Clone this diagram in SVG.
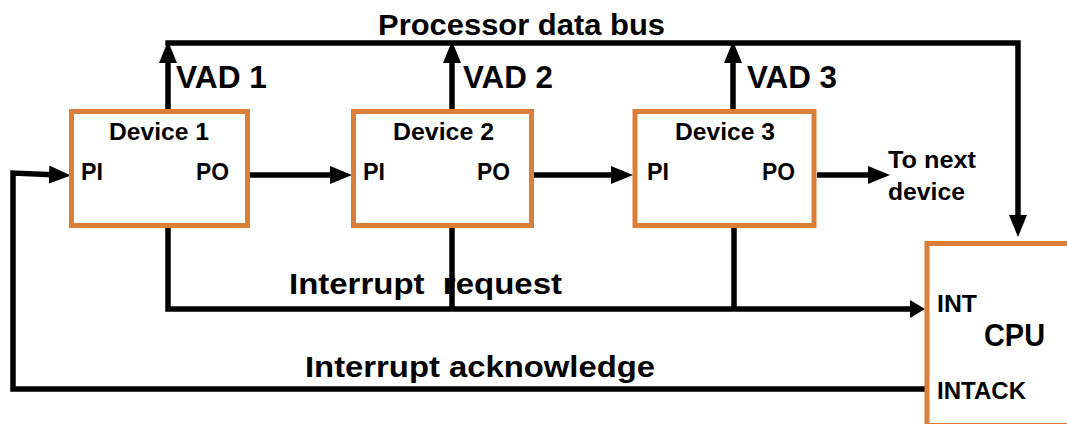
<svg xmlns="http://www.w3.org/2000/svg" width="1067" height="424" viewBox="0 0 1067 424">
<style>
.box{fill:#fff;stroke:#DA7E38;stroke-width:5}
.w{fill:none;stroke:#000;stroke-width:5.5;stroke-linejoin:miter;stroke-linecap:butt}
.a{marker-end:url(#arr)}
.as{marker-end:url(#arrS)}
text{font-family:"Liberation Sans",Arial,sans-serif;font-weight:bold;fill:#000}
.big{font-size:30px}
.vad{font-size:32px}
.lbl{font-size:23px}
.port{font-size:23.5px}
</style>
<defs>
<marker id="arr" markerUnits="userSpaceOnUse" markerWidth="22" markerHeight="18" refX="10" refY="9" orient="auto">
<path d="M0,0 L22,9 L0,18 z" fill="#000"/>
</marker>
<marker id="arrS" markerUnits="userSpaceOnUse" markerWidth="15" markerHeight="18" refX="5" refY="9" orient="auto">
<path d="M0,0 L15,9 L0,18 z" fill="#000"/>
</marker>
</defs>
<rect width="1067" height="424" fill="#fff"/>

<g id="connectors">
<path class="w" d="M165.3,43 H1018 V225" marker-end="url(#arr)"/>
<path class="w a" d="M168,110 V53"/>
<path class="w a" d="M452,110 V53"/>
<path class="w a" d="M733,110 V53"/>
<path class="w a" d="M250,175 H340"/>
<path class="w a" d="M534,175 H621"/>
<path class="w a" d="M817,175 H878"/>
<path class="w a" d="M925,389 H13 V173 L59,175"/>
<path class="w as" d="M168,227 V309 H915"/>
<path class="w" d="M452,227 V309"/>
<path class="w" d="M734,227 V309"/>
</g>

<g id="device1">
<rect class="box" x="71.5" y="111.5" width="176" height="114"/>
<text class="lbl" x="109" y="140" textLength="100" lengthAdjust="spacingAndGlyphs">Device 1</text>
<text class="port" x="81" y="180" textLength="22" lengthAdjust="spacingAndGlyphs">PI</text>
<text class="port" x="196" y="180" textLength="33" lengthAdjust="spacingAndGlyphs">PO</text>
</g>
<g id="device2">
<rect class="box" x="353.5" y="111.5" width="178" height="114"/>
<text class="lbl" x="393" y="140" textLength="101" lengthAdjust="spacingAndGlyphs">Device 2</text>
<text class="port" x="363" y="180" textLength="22" lengthAdjust="spacingAndGlyphs">PI</text>
<text class="port" x="477" y="180" textLength="33" lengthAdjust="spacingAndGlyphs">PO</text>
</g>
<g id="device3">
<rect class="box" x="635" y="111.5" width="179" height="114"/>
<text class="lbl" x="675" y="140" textLength="100" lengthAdjust="spacingAndGlyphs">Device 3</text>
<text class="port" x="647" y="180" textLength="22" lengthAdjust="spacingAndGlyphs">PI</text>
<text class="port" x="762" y="180" textLength="33" lengthAdjust="spacingAndGlyphs">PO</text>
</g>
<g id="cpu">
<rect class="box" x="927" y="243.5" width="200" height="182"/>
<text class="port" x="937" y="312" textLength="40" lengthAdjust="spacingAndGlyphs">INT</text>
<text x="984" y="346" font-size="31" textLength="61" lengthAdjust="spacingAndGlyphs">CPU</text>
<text class="port" x="937" y="399" textLength="89" lengthAdjust="spacingAndGlyphs">INTACK</text>
</g>

<g id="labels">
<text class="big" x="378" y="35" font-size="28" textLength="287" lengthAdjust="spacingAndGlyphs">Processor data bus</text>
<text class="vad" x="176" y="88" textLength="91" lengthAdjust="spacingAndGlyphs">VAD 1</text>
<text class="vad" x="463" y="88" textLength="90" lengthAdjust="spacingAndGlyphs">VAD 2</text>
<text class="vad" x="747" y="88" textLength="90" lengthAdjust="spacingAndGlyphs">VAD 3</text>
<text class="lbl" x="888" y="168" font-size="23" textLength="88" lengthAdjust="spacingAndGlyphs">To next</text>
<text class="lbl" x="888" y="200" font-size="23" textLength="77" lengthAdjust="spacingAndGlyphs">device</text>
<text class="big" x="289" y="294" font-size="31" xml:space="preserve" textLength="273" lengthAdjust="spacingAndGlyphs">Interrupt  request</text>
<text class="big" x="305" y="377" font-size="29" textLength="350" lengthAdjust="spacingAndGlyphs">Interrupt acknowledge</text>
</g>
</svg>
